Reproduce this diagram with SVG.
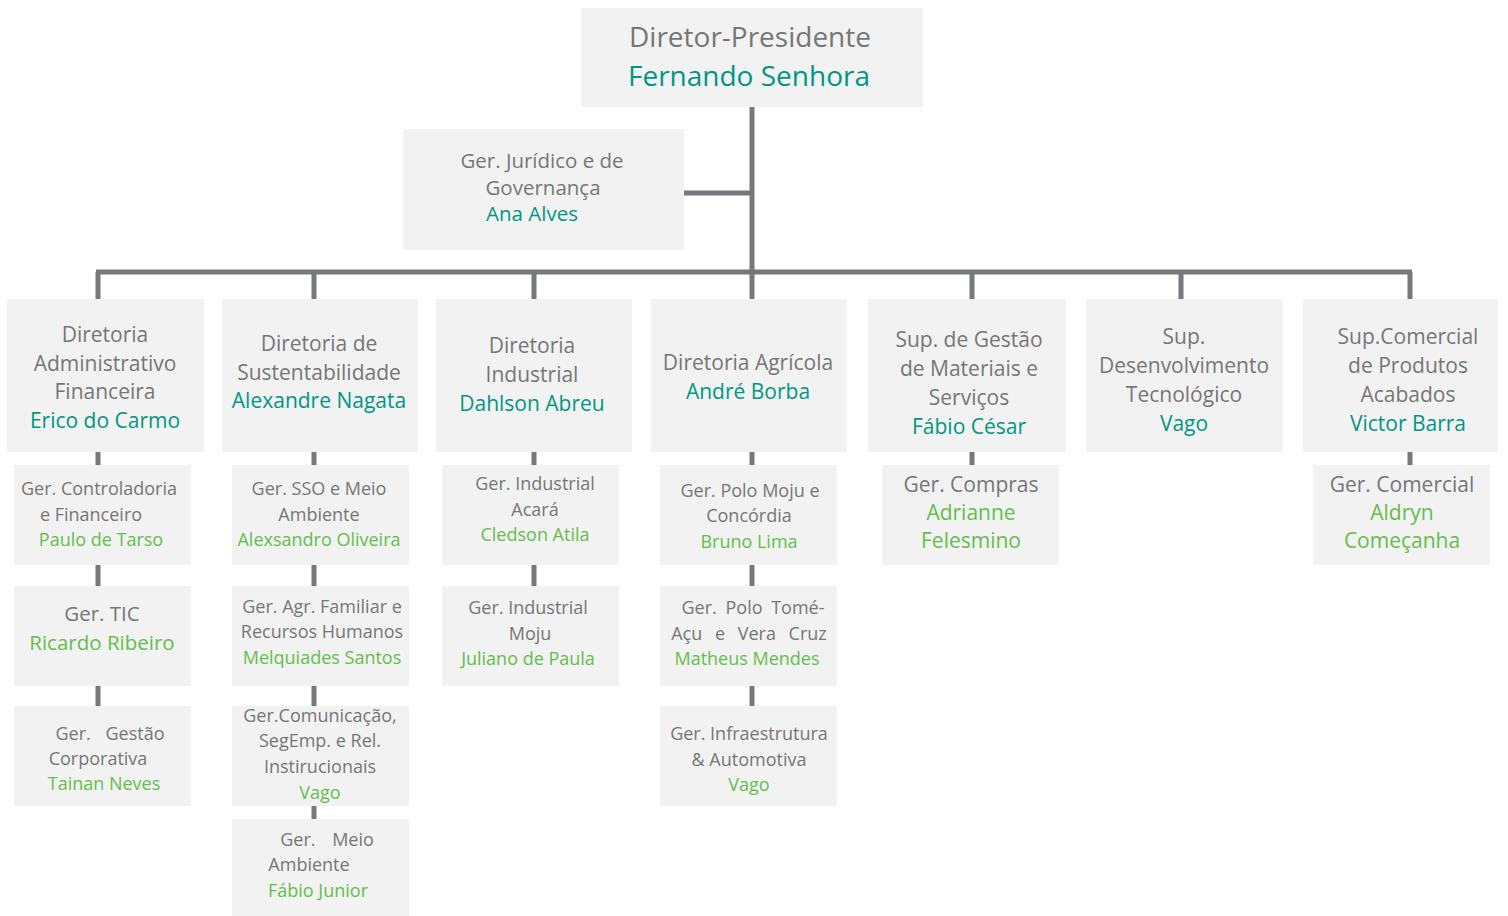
<svg xmlns="http://www.w3.org/2000/svg" width="1508" height="916" viewBox="0 0 1508 916">
<style>
.box{fill:#f2f2f2}
text{font-family:"Open Sans","Noto Sans","Liberation Sans",sans-serif;text-anchor:middle}
.t{fill:#767676}
.n{fill:#009682}
.g{fill:#63be4c}
.f1{font-size:28px}
.f2{font-size:20.5px}
.f5{font-size:21px}
.f3{font-size:21px}
.f4{font-size:18px}
.con{stroke:#77787b;stroke-width:5;fill:none}
</style>
<rect width="1508" height="916" fill="#ffffff"/>
<g id="connectors" class="con">
<path d="M752,107V299M684,193H752M96,272H1412"/>
<path d="M98,272V299M314,272V299M534,272V299M972,272V299M1181,272V299M1410,272V299"/>
<path d="M98,452V465M98,565V586M98,686V706"/>
<path d="M314,452V465M314,565V586M314,686V706M314,806V819"/>
<path d="M534,452V465M534,565V586"/>
<path d="M752,452V465M752,565V586M752,686V706"/>
<path d="M972,452V465M1410,452V465"/>
</g>
<g id="presidente"><rect class="box" x="581" y="8" width="342" height="99"/>
<text class="t f1" x="750" y="47">Diretor-Presidente</text>
<text class="n f1" x="749" y="86">Fernando Senhora</text></g>
<g id="juridico"><rect class="box" x="403" y="129" width="281" height="121"/>
<text class="t f2" x="542" y="168">Ger. Jurídico e de</text>
<text class="t f2" x="543" y="195">Governança</text>
<text class="n f2" x="532" y="221">Ana Alves</text></g>
<g id="dir-adm"><rect class="box" x="7" y="299" width="197" height="153"/>
<text class="t f3" x="105" y="342">Diretoria</text>
<text class="t f3" x="105" y="371">Administrativo</text>
<text class="t f3" x="105" y="399">Financeira</text>
<text class="n f3" x="105" y="428">Erico do Carmo</text></g>
<g id="dir-sust"><rect class="box" x="222" y="299" width="196" height="153"/>
<text class="t f3" x="319" y="351">Diretoria de</text>
<text class="t f3" x="319" y="380">Sustentabilidade</text>
<text class="n f3" x="319" y="408">Alexandre Nagata</text></g>
<g id="dir-ind"><rect class="box" x="436" y="299" width="196" height="153"/>
<text class="t f3" x="532" y="353">Diretoria</text>
<text class="t f3" x="532" y="382">Industrial</text>
<text class="n f3" x="532" y="411">Dahlson Abreu</text></g>
<g id="dir-agr"><rect class="box" x="651" y="299" width="196" height="153"/>
<text class="t f3" x="748" y="370">Diretoria Agrícola</text>
<text class="n f3" x="748" y="399">André Borba</text></g>
<g id="sup-mat"><rect class="box" x="868" y="299" width="198" height="153"/>
<text class="t f3" x="969" y="347">Sup. de Gestão</text>
<text class="t f3" x="969" y="376">de Materiais e</text>
<text class="t f3" x="969" y="405">Serviços</text>
<text class="n f3" x="969" y="434">Fábio César</text></g>
<g id="sup-dev"><rect class="box" x="1086" y="299" width="197" height="153"/>
<text class="t f3" x="1184" y="344">Sup.</text>
<text class="t f3" x="1184" y="373">Desenvolvimento</text>
<text class="t f3" x="1184" y="402">Tecnológico</text>
<text class="n f3" x="1184" y="431">Vago</text></g>
<g id="sup-com"><rect class="box" x="1303" y="299" width="195" height="153"/>
<text class="t f3" x="1408" y="344">Sup.Comercial</text>
<text class="t f3" x="1408" y="373">de Produtos</text>
<text class="t f3" x="1408" y="402">Acabados</text>
<text class="n f3" x="1408" y="431">Victor Barra</text></g>
<g id="ger-contr"><rect class="box" x="14" y="465" width="177" height="100"/>
<text class="t f4" x="99" y="495">Ger. Controladoria</text>
<text class="t f4" x="91" y="521">e Financeiro</text>
<text class="g f4" x="101" y="546">Paulo de Tarso</text></g>
<g id="ger-tic"><rect class="box" x="14" y="586" width="177" height="100"/>
<text class="t f2" x="102" y="621">Ger. TIC</text>
<text class="g f2" x="102" y="650">Ricardo Ribeiro</text></g>
<g id="ger-gestao"><rect class="box" x="14" y="706" width="177" height="100"/>
<text class="t f4" x="110" y="740" word-spacing="10">Ger. Gestão</text>
<text class="t f4" x="98" y="765">Corporativa</text>
<text class="g f4" x="104" y="790">Tainan Neves</text></g>
<g id="ger-sso"><rect class="box" x="232" y="465" width="177" height="100"/>
<text class="t f4" x="319" y="495">Ger. SSO e Meio</text>
<text class="t f4" x="319" y="521">Ambiente</text>
<text class="g f4" x="319" y="546">Alexsandro Oliveira</text></g>
<g id="ger-agr"><rect class="box" x="232" y="586" width="177" height="100"/>
<text class="t f4" x="322" y="613">Ger. Agr. Familiar e</text>
<text class="t f4" x="322" y="638">Recursos Humanos</text>
<text class="g f4" x="322" y="664">Melquiades Santos</text></g>
<g id="ger-comun"><rect class="box" x="232" y="706" width="177" height="100"/>
<text class="t f4" x="320" y="722">Ger.Comunicação,</text>
<text class="t f4" x="320" y="747">SegEmp. e Rel.</text>
<text class="t f4" x="320" y="773">Instirucionais</text>
<text class="g f4" x="320" y="799">Vago</text></g>
<g id="ger-meio"><rect class="box" x="232" y="819" width="177" height="97"/>
<text class="t f4" x="327" y="846" word-spacing="12">Ger. Meio</text>
<text class="t f4" x="309" y="871">Ambiente</text>
<text class="g f4" x="318" y="897">Fábio Junior</text></g>
<g id="ger-acara"><rect class="box" x="442" y="465" width="177" height="100"/>
<text class="t f4" x="535" y="490">Ger. Industrial</text>
<text class="t f4" x="535" y="516">Acará</text>
<text class="g f4" x="535" y="541">Cledson Atila</text></g>
<g id="ger-moju"><rect class="box" x="442" y="586" width="177" height="100"/>
<text class="t f4" x="528" y="614">Ger. Industrial</text>
<text class="t f4" x="530" y="640">Moju</text>
<text class="g f4" x="528" y="665">Juliano de Paula</text></g>
<g id="ger-polo-moju"><rect class="box" x="660" y="465" width="177" height="100"/>
<text class="t f4" x="750" y="497">Ger. Polo Moju e</text>
<text class="t f4" x="749" y="522">Concórdia</text>
<text class="g f4" x="749" y="548">Bruno Lima</text></g>
<g id="ger-polo-tome"><rect class="box" x="660" y="586" width="177" height="100"/>
<text class="t f4" x="753" y="614" word-spacing="4">Ger. Polo Tomé-</text>
<text class="t f4" x="749" y="640" word-spacing="8">Açu e Vera Cruz</text>
<text class="g f4" x="747" y="665">Matheus Mendes</text></g>
<g id="ger-infra"><rect class="box" x="660" y="706" width="177" height="100"/>
<text class="t f4" x="749" y="740">Ger. Infraestrutura</text>
<text class="t f4" x="749" y="766">&amp; Automotiva</text>
<text class="g f4" x="749" y="791">Vago</text></g>
<g id="ger-compras"><rect class="box" x="882" y="465" width="177" height="100"/>
<text class="t f5" x="971" y="492">Ger. Compras</text>
<text class="g f5" x="971" y="520">Adrianne</text>
<text class="g f5" x="971" y="548">Felesmino</text></g>
<g id="ger-comercial"><rect class="box" x="1313" y="465" width="177" height="100"/>
<text class="t f5" x="1402" y="492">Ger. Comercial</text>
<text class="g f5" x="1402" y="520">Aldryn</text>
<text class="g f5" x="1402" y="548">Começanha</text></g>
</svg>
